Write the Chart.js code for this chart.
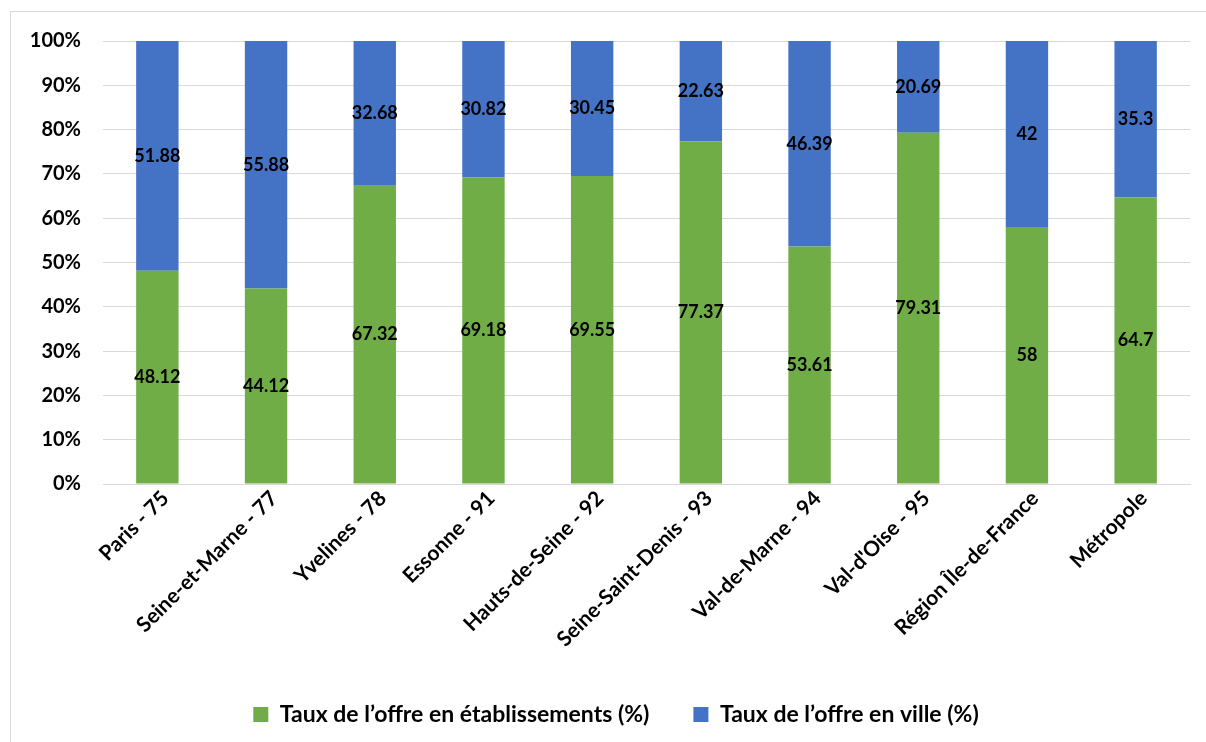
<!DOCTYPE html>
<html>
<head>
<meta charset="utf-8">
<script src="https://cdn.jsdelivr.net/npm/chart.js@4/dist/chart.umd.min.js"></script>
<style>
  html, body { margin: 0; padding: 0; background: #fff; overflow: hidden; }
  #frame { position: absolute; left: 10px; top: 11px; width: 1300px; height: 900px; border: 1px solid #d9d9d9; }
  #wrap { position: absolute; left: 0; top: 0; width: 1206px; height: 742px; }
</style>
</head>
<body>
<div id="frame"></div>
<div id="wrap"><canvas id="chart" width="1206" height="742"></canvas></div>
<script>
const CATEGORIES = ['Paris - 75', 'Seine-et-Marne - 77', 'Yvelines - 78', 'Essonne - 91', 'Hauts-de-Seine - 92',
  'Seine-Saint-Denis - 93', 'Val-de-Marne - 94', "Val-d'Oise - 95", 'Région Île-de-France', 'Métropole']
const OFFRE_ETABLISSEMENTS = [48.12, 44.12, 67.32, 69.18, 69.55, 77.37, 53.61, 79.31, 58, 64.7]
const OFFRE_VILLE = [51.88, 55.88, 32.68, 30.82, 30.45, 22.63, 46.39, 20.69, 42, 35.3]
const Y_TICKS = [0, 10, 20, 30, 40, 50, 60, 70, 80, 90, 100]

const FONT = 'Lato, "Open Sans", sans-serif'

// draws the value in the middle of every segment
const segmentLabels = {
  id: 'segmentLabels',
  afterDatasetsDraw(chart) {
    const ctx = chart.ctx
    ctx.save()
    ctx.font = 'bold 18px ' + FONT
    ctx.fillStyle = '#000'
    ctx.textAlign = 'center'
    ctx.textBaseline = 'middle'
    chart.data.datasets.forEach((ds, i) => {
      chart.getDatasetMeta(i).data.forEach((bar, j) => {
        const mid = (bar.y + bar.base) / 2
        ctx.fillText(String(ds.data[j]), bar.x, mid)
      })
    })
    ctx.restore()
  }
}

// legend is centred under the plot area, not the whole canvas
const legendShift = {
  id: 'legendShift',
  afterLayout(chart) {
    chart.legend.left += 16
    chart.legend.right += 16
  }
}

new Chart(document.getElementById('chart'), {
  type: 'bar',
  data: {
    labels: CATEGORIES,
    datasets: [{
      label: 'Taux de l\u2019offre en établissements (%)',
      data: OFFRE_ETABLISSEMENTS,
      backgroundColor: '#70ad47',
      barPercentage: 0.78,
      categoryPercentage: 0.5
    }, {
      label: 'Taux de l\u2019offre en ville (%)',
      data: OFFRE_VILLE,
      backgroundColor: '#4472c4',
      barPercentage: 0.78,
      categoryPercentage: 0.5
    }]
  },
  plugins: [segmentLabels, legendShift],
  options: {
    responsive: false,
    animation: false,
    devicePixelRatio: 1,
    layout: { padding: { left: 10, right: 16, top: 41, bottom: 6 } },
    scales: {
      x: {
        stacked: true,
        grid: { display: false, drawTicks: false },
        border: { color: '#d9d9d9', width: 1 },
        ticks: {
          color: '#000',
          font: { family: FONT, size: 21, weight: 'bold' },
          maxRotation: 45,
          minRotation: 45,
          padding: 2,
          labelOffset: 8
        },
        afterFit: (scale) => { scale.height = 175 }
      },
      y: {
        stacked: true,
        min: 0,
        max: 100,
        afterBuildTicks: (scale) => { scale.ticks = Y_TICKS.map(v => ({ value: v })) },
        grid: { color: '#d9d9d9', drawTicks: false },
        border: { display: false },
        ticks: {
          color: '#000',
          font: { family: FONT, size: 20, weight: 'bold' },
          padding: 22,
          callback: (v) => v + '%'
        },
        afterFit: (scale) => { scale.width = 93 }
      }
    },
    plugins: {
      legend: {
        position: 'bottom',
        labels: {
          color: '#000',
          font: { family: FONT, size: 23, weight: 'bold' },
          boxWidth: 15,
          boxHeight: 15,
          padding: 44
        }
      },
      tooltip: { enabled: false }
    }
  }
})
</script>
</body>
</html>
